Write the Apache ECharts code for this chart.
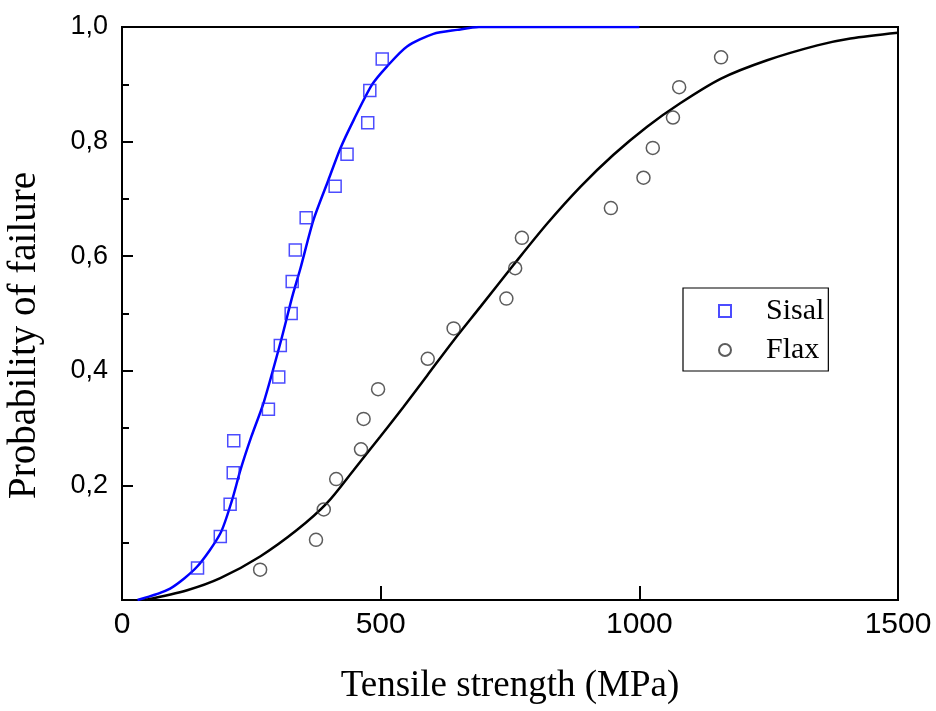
<!DOCTYPE html>
<html>
<head>
<meta charset="utf-8">
<script src="https://cdn.jsdelivr.net/npm/echarts@6/dist/echarts.min.js"></script>
<style>html,body{margin:0;padding:0;background:#fff}#c{width:936px;height:711px}</style>
</head>
<body>
<div id="c"></div>
<script>
// Measured data (MPa, probability of failure)
const sisalX = [146, 190, 209, 215, 216, 283, 303, 306, 327, 329, 335, 356, 412, 435, 475, 479, 503];
const sisalY = [0.056, 0.111, 0.167, 0.222, 0.278, 0.333, 0.389, 0.444, 0.500, 0.556, 0.611, 0.667, 0.722, 0.778, 0.833, 0.889, 0.944];
const flaxX = [267, 375, 390, 414, 462, 467, 495, 591, 641, 743, 760, 773, 945, 1008, 1026, 1065, 1077, 1158];
const flaxY = [0.053, 0.105, 0.158, 0.211, 0.263, 0.316, 0.368, 0.421, 0.474, 0.526, 0.579, 0.632, 0.684, 0.737, 0.789, 0.842, 0.895, 0.947];
// Fitted curves
const sisalFitX = [30, 93, 145, 190, 213, 229, 250, 274, 306, 329, 345, 370, 399, 422, 448, 483, 512, 551, 602, 648, 690, 1000];
const sisalFitY = [0, 0.02, 0.058, 0.116, 0.175, 0.227, 0.285, 0.345, 0.448, 0.529, 0.579, 0.663, 0.733, 0.788, 0.838, 0.899, 0.931, 0.966, 0.988, 0.995, 1.0, 1.0];
const flaxFitX = [45, 126, 190, 267, 338, 396, 448, 499, 544, 590, 641, 693, 757, 822, 886, 950, 1015, 1079, 1158, 1247, 1344, 1408, 1500];
const flaxFitY = [0, 0.017, 0.038, 0.076, 0.122, 0.169, 0.227, 0.285, 0.337, 0.392, 0.453, 0.512, 0.585, 0.657, 0.721, 0.777, 0.826, 0.867, 0.91, 0.942, 0.968, 0.98, 0.99];
const xTicks = [0, 500, 1000, 1500];
const seriesNames = ['Sisal', 'Flax'];
const xTitle = 'Tensile strength (MPa)';
const yTitle = 'Probability of failure';

const zip = (a, b) => a.map((v, i) => [v, b[i]]);
const chart = echarts.init(document.getElementById('c'), null, {renderer: 'canvas'});
chart.setOption({
  animation: false,
  backgroundColor: '#fff',
  grid: {left: 122, right: 38, top: 27, bottom: 111, outerBoundsMode: 'none', containLabel: false,
    show: true, borderColor: '#000', borderWidth: 2, backgroundColor: 'transparent'},
  legend: {
    data: seriesNames,
    orient: 'vertical',
    left: 683, top: 288,
    padding: [8, 4, 6, 35],
    itemGap: 9,
    itemWidth: 12, itemHeight: 12,
    borderColor: '#000', borderWidth: 1.2,
    textStyle: {fontFamily: 'Liberation Serif', fontSize: 30, color: '#000', padding: [0, 0, 0, 30], lineHeight: 30}
  },
  xAxis: {
    type: 'value', min: xTicks[0], max: xTicks[xTicks.length - 1], interval: 500,
    name: xTitle, nameLocation: 'middle', nameGap: 68,
    nameTextStyle: {fontFamily: 'Liberation Serif', fontSize: 37, color: '#000'},
    axisLine: {show: true, lineStyle: {color: '#000', width: 2}},
    axisTick: {show: true, inside: true, length: 14, lineStyle: {color: '#000', width: 2}},
    axisLabel: {margin: 10, fontFamily: 'Liberation Sans', fontSize: 30, color: '#000',
      formatter: v => String(v)},
    splitLine: {show: false}
  },
  yAxis: {
    type: 'value', min: 0, max: 1, interval: 0.2,
    name: yTitle, nameLocation: 'middle', nameGap: 78,
    nameTextStyle: {fontFamily: 'Liberation Serif', fontSize: 39, color: '#000', padding: [0, 44, 0, 0]},
    axisLine: {show: true, lineStyle: {color: '#000', width: 2}},
    axisTick: {show: true, inside: true, length: 11, lineStyle: {color: '#000', width: 2}},
    minorTick: {show: true, splitNumber: 2, length: 7, lineStyle: {color: '#000', width: 2}},
    axisLabel: {margin: 14, fontFamily: 'Liberation Sans', fontSize: 27, color: '#000',
      formatter: v => v === 0 ? '' : v.toFixed(1).replace('.', ',')},
    splitLine: {show: false}
  },
  series: [
    {name: 'Sisal fit', type: 'line', data: zip(sisalFitX, sisalFitY), showSymbol: false, smooth: 0.25,
      lineStyle: {color: '#0000ff', width: 2.5}, z: 2},
    {name: 'Flax fit', type: 'line', data: zip(flaxFitX, flaxFitY), showSymbol: false, smooth: 0.3,
      lineStyle: {color: '#000', width: 2.5}, z: 2},
    {name: 'Sisal', type: 'scatter', data: zip(sisalX, sisalY), symbol: 'rect', symbolSize: 12,
      itemStyle: {color: 'rgba(255,255,255,0)', borderColor: '#1f1fff', borderWidth: 1.5}, z: 3},
    {name: 'Flax', type: 'scatter', data: zip(flaxX, flaxY), symbol: 'circle', symbolSize: 13,
      itemStyle: {color: 'rgba(255,255,255,0)', borderColor: '#333', borderWidth: 1.5}, z: 3}
  ]
});
</script>
</body>
</html>
